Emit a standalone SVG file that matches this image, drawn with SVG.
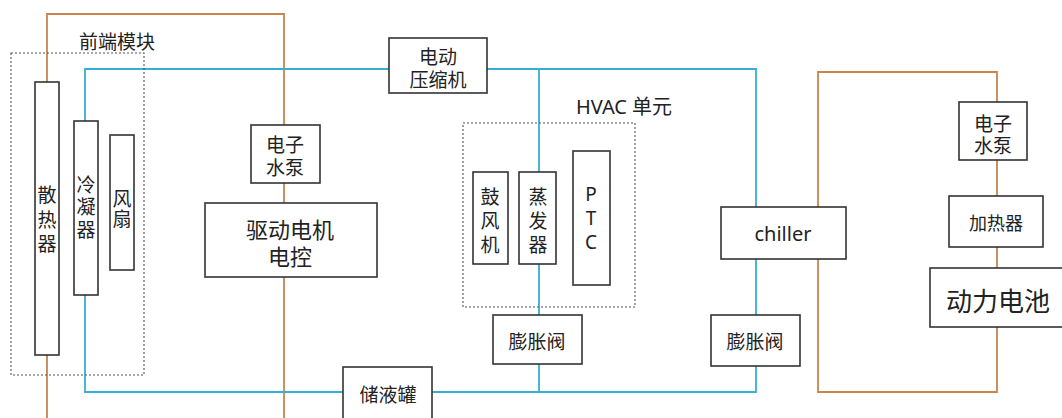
<svg xmlns="http://www.w3.org/2000/svg" width="1062" height="418" viewBox="0 0 1062 418">
<style>
.bx{fill:#fff;stroke:#333;stroke-width:1.6}
.grp{fill:none;stroke:#555;stroke-width:1.1;stroke-dasharray:2 2}
.bl{fill:none;stroke:#35afd6;stroke-width:1.8}
.or{fill:none;stroke:#c9844e;stroke-width:1.8}
text{font-family:"Noto Sans CJK SC","Noto Sans",sans-serif;fill:#222;text-anchor:middle;dominant-baseline:central;font-size:19px}
.lat{font-family:"Noto Sans","Noto Sans CJK SC",sans-serif}
</style>
<rect width="1062" height="418" fill="#fff"/>
<g id="connectors">
<path class="or" d="M47 82V14H284V125M284 183V203M284 277V418M47 355V418"/>
<path class="or" d="M818 207V72H997V102M997 160V196M997 247V268M997 327V392H818V259"/>
<path class="bl" d="M85 121V69H389M487 69H756V207M756 259V315M756 366V392H432M343 392H85V295"/>
<path class="bl" d="M539 69V172M539 264V315M539 364V392"/>
</g>
<g id="front-module">
<rect class="grp" x="11" y="53" width="133" height="322"/>
<text x="117" y="40">前端模块</text>
</g>
<g id="radiator">
<rect class="bx" x="35" y="82" width="24" height="273"/>
<text><tspan x="47" y="193">散</tspan><tspan x="47" y="218">热</tspan><tspan x="47" y="242">器</tspan></text>
</g>
<g id="condenser">
<rect class="bx" x="74" y="121" width="24" height="174"/>
<text><tspan x="86" y="183">冷</tspan><tspan x="86" y="205">凝</tspan><tspan x="86" y="228">器</tspan></text>
</g>
<g id="fan">
<rect class="bx" x="110" y="135" width="24" height="135"/>
<text><tspan x="122" y="197">风</tspan><tspan x="122" y="217">扇</tspan></text>
</g>
<g id="pump-left">
<rect class="bx" x="251" y="125" width="69" height="58"/>
<text><tspan x="285" y="143">电子</tspan><tspan x="285" y="166">水泵</tspan></text>
</g>
<g id="motor">
<rect class="bx" x="205" y="203" width="172" height="74"/>
<text style="font-size:22px"><tspan x="290" y="228">驱动电机</tspan><tspan x="290" y="255">电控</tspan></text>
</g>
<g id="compressor">
<rect class="bx" x="389" y="38" width="98" height="55"/>
<text><tspan x="438" y="55">电动</tspan><tspan x="438" y="78">压缩机</tspan></text>
</g>
<g id="hvac">
<rect class="grp" x="463" y="123" width="172" height="184"/>
<text x="624" y="106" class="lat" style="font-size:20px">HVAC 单元</text>
</g>
<g id="blower">
<rect class="bx" x="473" y="172" width="35" height="92"/>
<text><tspan x="490" y="195">鼓</tspan><tspan x="490" y="219">风</tspan><tspan x="490" y="243">机</tspan></text>
</g>
<g id="evaporator">
<rect class="bx" x="519" y="172" width="37" height="92"/>
<text><tspan x="538" y="195">蒸</tspan><tspan x="538" y="219">发</tspan><tspan x="538" y="243">器</tspan></text>
</g>
<g id="ptc">
<rect class="bx" x="573" y="151" width="37" height="134"/>
<text class="lat"><tspan x="591" y="194">P</tspan><tspan x="591" y="218">T</tspan><tspan x="591" y="242">C</tspan></text>
</g>
<g id="valve-1">
<rect class="bx" x="493" y="315" width="89" height="49"/>
<text x="537" y="340">膨胀阀</text>
</g>
<g id="receiver">
<rect class="bx" x="343" y="367" width="89" height="55"/>
<text x="388" y="393">储液罐</text>
</g>
<g id="chiller">
<rect class="bx" x="721" y="207" width="125" height="52"/>
<text x="783" y="233" class="lat" style="font-size:20px">chiller</text>
</g>
<g id="valve-2">
<rect class="bx" x="711" y="315" width="89" height="51"/>
<text x="755" y="340">膨胀阀</text>
</g>
<g id="pump-right">
<rect class="bx" x="959" y="102" width="68" height="58"/>
<text><tspan x="993" y="122">电子</tspan><tspan x="993" y="144">水泵</tspan></text>
</g>
<g id="heater">
<rect class="bx" x="949" y="196" width="94" height="51"/>
<text x="996" y="222" style="font-size:18px">加热器</text>
</g>
<g id="battery">
<rect class="bx" x="930" y="268" width="140" height="59"/>
<text x="998" y="299" style="font-size:26px">动力电池</text>
</g>
</svg>
